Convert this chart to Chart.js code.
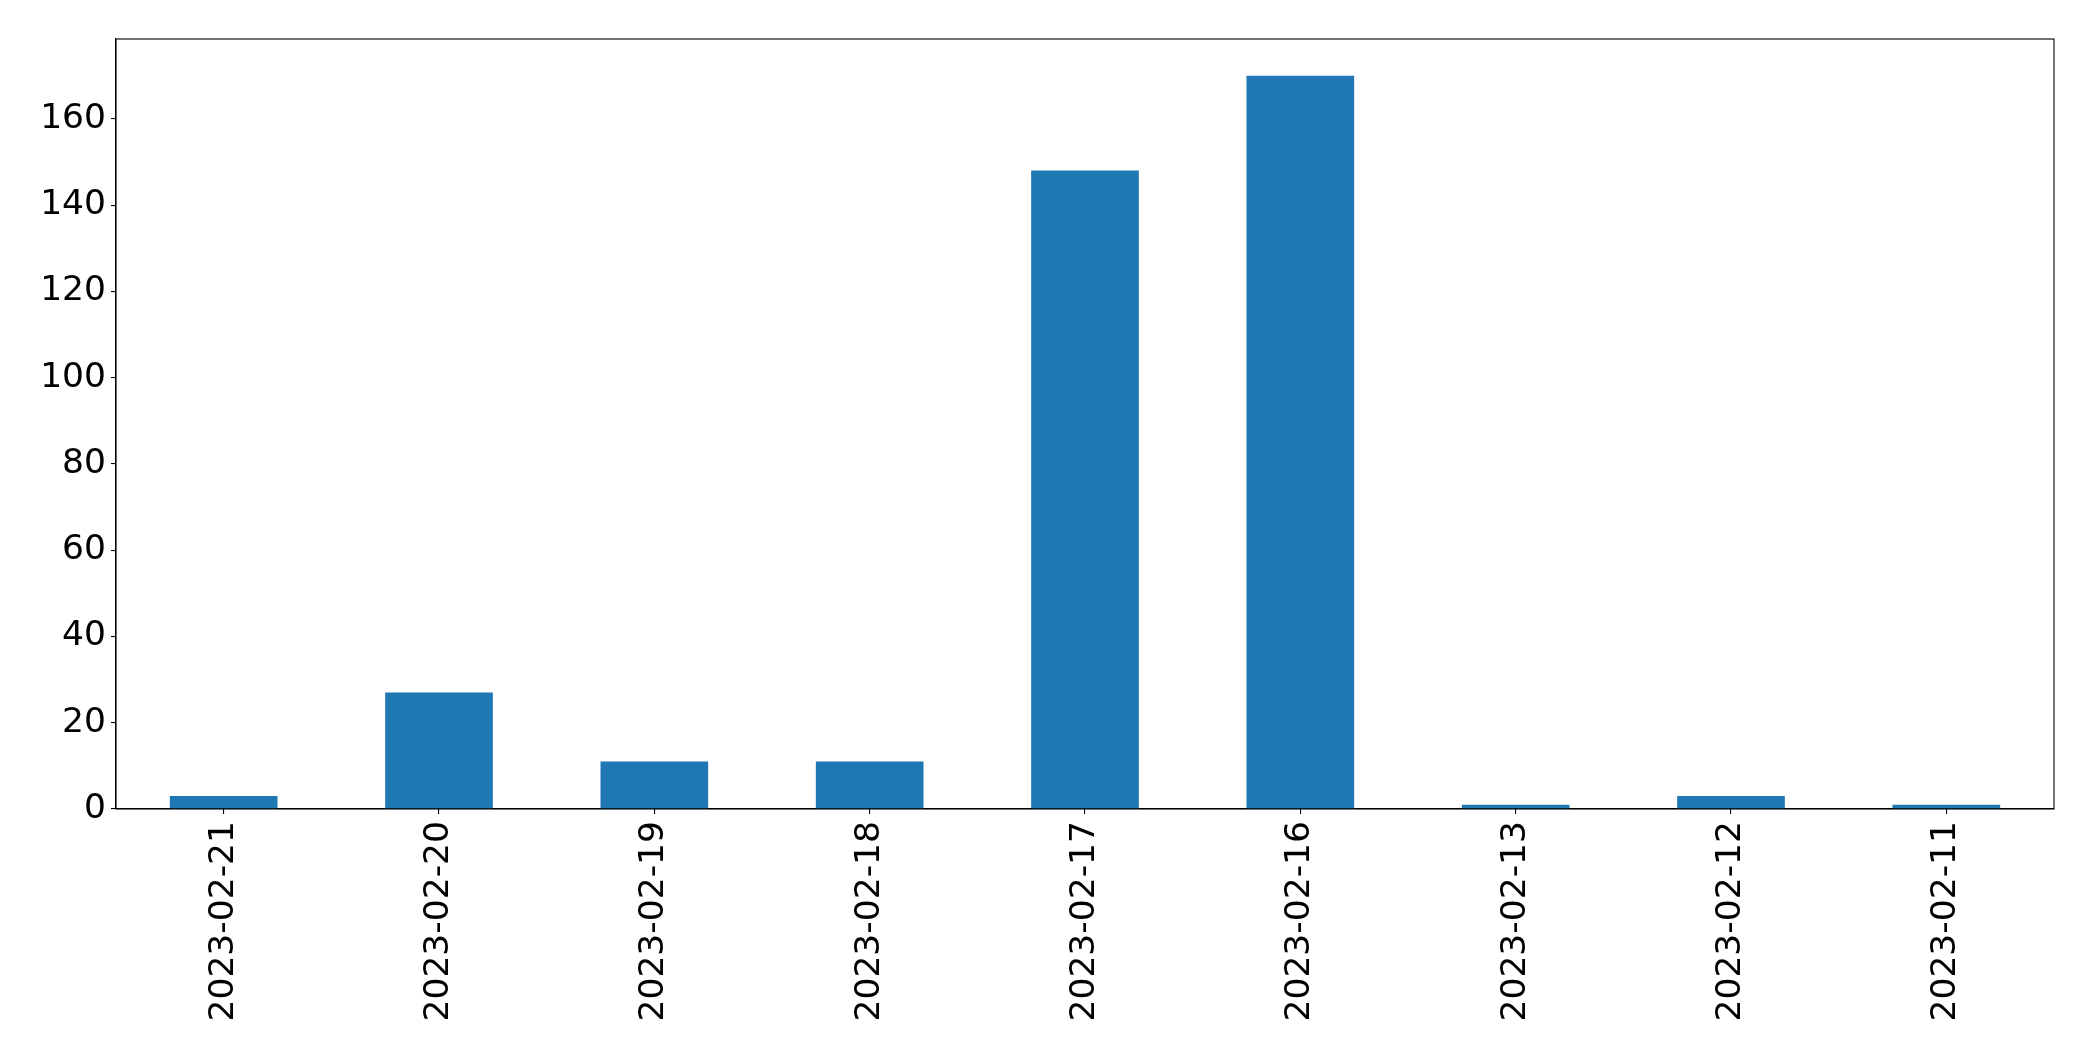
<!DOCTYPE html>
<html>
<head>
<meta charset="utf-8">
<script src="https://cdn.jsdelivr.net/npm/chart.js@4/dist/chart.umd.min.js"></script>
<style>
  html, body { margin: 0; padding: 0; background: #fff; }
  #wrap { width: 2093px; height: 1061px; }
</style>
</head>
<body>
<div id="wrap"><canvas id="c" width="2093" height="1061"></canvas></div>
<script>
const categories = ["2023-02-21", "2023-02-20", "2023-02-19", "2023-02-18", "2023-02-17", "2023-02-16", "2023-02-13", "2023-02-12", "2023-02-11"];
const counts = [3, 27, 11, 11, 148, 170, 1, 3, 1];
const yTicks = [0, 20, 40, 60, 80, 100, 120, 140, 160];
const yMax = 178.5;

const frame = {
  id: 'frame',
  afterDatasetsDraw(chart) {
    const { ctx, chartArea: a } = chart;
    ctx.save();
    ctx.strokeStyle = '#000';
    ctx.lineWidth = 1.1;
    ctx.strokeRect(a.left, a.top, a.right - a.left, a.bottom - a.top);
    ctx.restore();
  }
};

const font = { family: "'DejaVu Sans', sans-serif", size: 34.5 };

new Chart(document.getElementById('c'), {
  type: 'bar',
  data: {
    labels: categories,
    datasets: [{
      data: counts,
      backgroundColor: '#1f77b4',
      borderWidth: 0,
      categoryPercentage: 1.0,
      barPercentage: 0.5
    }]
  },
  options: {
    responsive: false,
    animation: false,
    devicePixelRatio: 1,
    layout: { padding: { top: 39, right: 39, left: 0, bottom: 0 } },
    plugins: { legend: { display: false }, tooltip: { enabled: false } },
    scales: {
      x: {
        offset: true,
        grid: { display: true, offset: false, drawOnChartArea: false, tickLength: 5, color: '#000', lineWidth: 1.1 },
        border: { display: true, color: '#000', width: 1.1 },
        ticks: { color: '#000', font: font, minRotation: 90, maxRotation: 90, padding: 7, autoSkip: false },
        afterFit(scale) { scale.height = 252; }
      },
      y: {
        min: 0,
        max: yMax,
        afterBuildTicks(scale) { scale.ticks = yTicks.map(v => ({ value: v })); },
        grid: { display: true, drawOnChartArea: false, tickLength: 5, color: '#000', lineWidth: 1.1 },
        border: { display: true, color: '#000', width: 1.1 },
        ticks: { color: '#000', font: font, padding: 5 },
        afterFit(scale) { scale.width = 116; }
      }
    }
  },
  plugins: [frame]
});
</script>
</body>
</html>
